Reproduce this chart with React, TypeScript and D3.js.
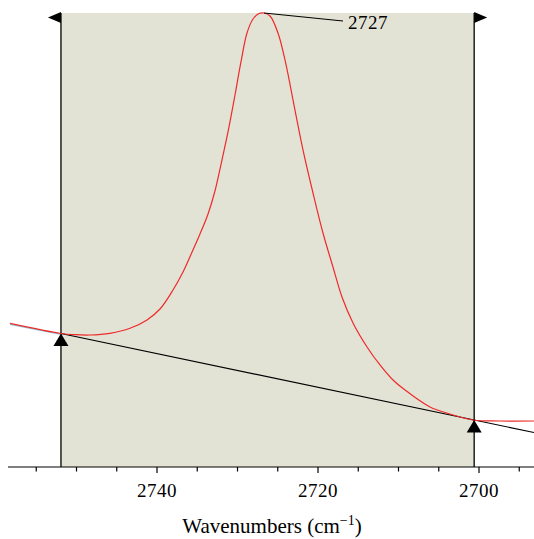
import React from "react";
import * as d3 from "d3";

const wavenumbers = [2758.26, 2751.93, 2750.19, 2748.32, 2745.84, 2743.35, 2741.24, 2739.63, 2738.01, 2736.77, 2735.53, 2734.66, 2733.66, 2732.8, 2731.93, 2731.18, 2730.31, 2729.57, 2728.82, 2728.07, 2727.33, 2726.71, 2725.96, 2724.97, 2724.1, 2722.86, 2721.86, 2720.62, 2719.38, 2718.14, 2717.02, 2715.65, 2713.91, 2712.3, 2710.81, 2709.19, 2706.09, 2703.6, 2700.75, 2697.39, 2693.17];
const absorbance = [0.3163, 0.2941, 0.2914, 0.2907, 0.2945, 0.3055, 0.3238, 0.348, 0.3899, 0.4295, 0.478, 0.5132, 0.5573, 0.6079, 0.6762, 0.7379, 0.8194, 0.8921, 0.9559, 0.9868, 0.9989, 1.0, 0.9934, 0.9559, 0.8965, 0.7863, 0.6982, 0.6035, 0.5154, 0.4405, 0.3744, 0.3172, 0.2643, 0.2247, 0.1938, 0.1696, 0.1322, 0.1167, 0.1035, 0.1013, 0.1013];

const baselineWn = [2751.93, 2700.6, 2693.17];
const baselineAbs = [0.2941, 0.1035, 0.076];
const baselineExtWn = [2758.26, 2751.93];
const baselineExtAbs = [0.3163, 0.2941];

const regionStart = 2751.93;
const regionEnd = 2700.6;
const peakWn = 2726.71;
const peakAbs = 1.0;
const peakLabel = "2727";

const majorTicks = [2740, 2720, 2700];
const minorTicks = [2755, 2750, 2745, 2735, 2730, 2725, 2715, 2710, 2705, 2695];
const xTitle = "Wavenumbers (cm";

export default function App() {
  const x = d3.scaleLinear().domain([2740, 2700]).range([157, 479]);
  const y = d3.scaleLinear().domain([0, 1]).range([467, 13]);
  const line = d3
    .line<number>()
    .x((_, i) => x(wavenumbers[i]))
    .y((d) => y(d))
    .curve(d3.curveCatmullRom.alpha(0.5));
  const baseLine = d3
    .line<number>()
    .x((_, i) => x(baselineWn[i]))
    .y((d) => y(d));
  const extLine = d3
    .line<number>()
    .x((_, i) => x(baselineExtWn[i]))
    .y((d) => y(d));

  const x0 = x(regionStart);
  const x1 = x(regionEnd);
  const top = y(1);
  const axisY = y(0);
  const font = "'Liberation Serif', 'Times New Roman', serif";

  const bL = { x: x0, y: y(baselineAbs[0]) };
  const bR = { x: x1, y: y(baselineAbs[1]) };

  return (
    <svg
      width={534}
      height={539}
      style={{ position: "absolute", left: 0, top: 0, background: "#fff" }}
    >
      <rect x={x0} y={top} width={x1 - x0} height={axisY - top} fill="#e3e3d5" />
      <line x1={x0} x2={x0} y1={top} y2={axisY} stroke="#000" strokeWidth={1.3} />
      <line x1={x1} x2={x1} y1={top} y2={axisY} stroke="#000" strokeWidth={1.3} />
      <path d={`M${x0 - 13},${top + 4.5} L${x0},${top - 1} L${x0},${top + 10} Z`} fill="#000" />
      <path d={`M${x1 + 13},${top + 4.5} L${x1},${top - 1} L${x1},${top + 10} Z`} fill="#000" />

      <path d={extLine(baselineExtAbs) || ""} fill="none" stroke="#8cc4d4" strokeWidth={1.3} transform="translate(0,1)" />
      <path d={baseLine(baselineAbs) || ""} fill="none" stroke="#000" strokeWidth={1.2} />
      <path d={line(absorbance) || ""} fill="none" stroke="#ee2a2a" strokeWidth={1.2} />

      <path d={`M${bL.x},${bL.y} L${bL.x - 7.5},${bL.y + 12.5} L${bL.x + 7.5},${bL.y + 12.5} Z`} fill="#000" />
      <path d={`M${bR.x},${bR.y} L${bR.x - 7.5},${bR.y + 12.5} L${bR.x + 7.5},${bR.y + 12.5} Z`} fill="#000" />

      <line x1={x(peakWn)} y1={y(peakAbs)} x2={343} y2={21} stroke="#000" strokeWidth={1.2} />
      <text x={348} y={29} fontFamily={font} fontSize={19} letterSpacing={0.5} fill="#000">{peakLabel}</text>

      <line x1={8} x2={534} y1={axisY} y2={axisY} stroke="#000" strokeWidth={1.2} />
      {minorTicks.map((t) => (
        <line key={"m" + t} x1={x(t)} x2={x(t)} y1={axisY} y2={axisY + 4.5} stroke="#000" strokeWidth={1.2} />
      ))}
      {majorTicks.map((t) => (
        <g key={"M" + t}>
          <line x1={x(t)} x2={x(t)} y1={axisY} y2={axisY + 6} stroke="#000" strokeWidth={1.2} />
          <text x={x(t)} y={497} textAnchor="middle" fontFamily={font} fontSize={19} letterSpacing={0.5} fill="#000">{t}</text>
        </g>
      ))}
      <text x={272} y={533} textAnchor="middle" fontFamily={font} fontSize={21} fill="#000">
        {xTitle}
        <tspan dy={-8} fontSize={14}>−1</tspan>
        <tspan dy={8}>)</tspan>
      </text>
    </svg>
  );
}
